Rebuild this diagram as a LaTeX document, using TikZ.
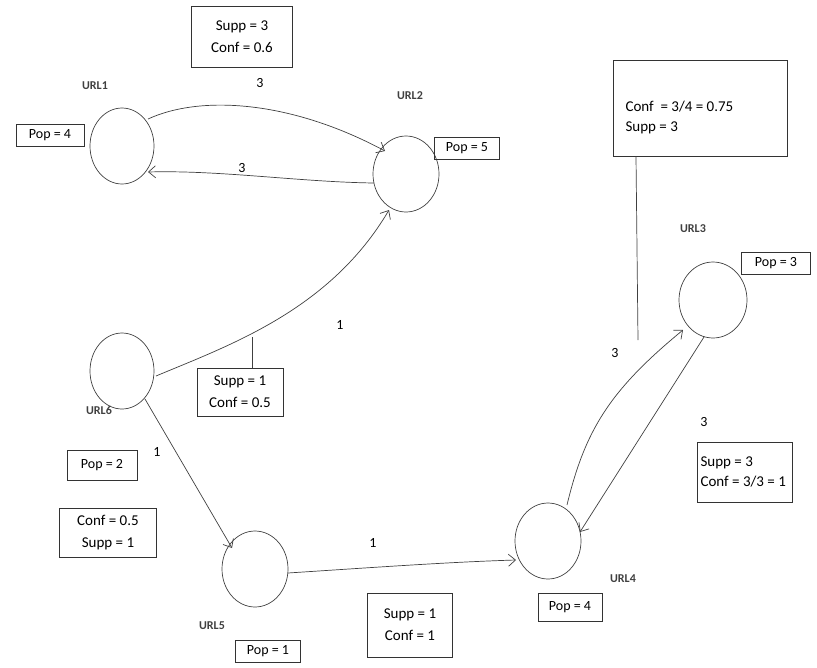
\documentclass[tikz,border=0pt]{standalone}
\usepackage{fontspec}
\setmainfont{Carlito}
\usetikzlibrary{arrows.meta,shapes.geometric}
\begin{document}
\begin{tikzpicture}[x=1pt,y=-1pt,
  urlnode/.style={ellipse,inner sep=0pt},
  infobox/.style={draw=black!80,line width=0.7pt,font=\fontsize{15}{22}\selectfont,align=center,inner sep=4pt},
  popbox/.style={draw=black!80,line width=0.7pt,font=\fontsize{14}{16}\selectfont,inner sep=3pt,minimum height=22pt},
  urllabel/.style={font=\bfseries\fontsize{12}{14}\selectfont,text=black!75},
  elabel/.style={font=\fontsize{14}{16}\selectfont},
  conn/.style={draw=black!75,line width=0.7pt},
  arr/.style={conn,-{Straight Barb[length=7pt,width=12pt]}}]
\useasboundingbox (0,0) rectangle (817,667);
% circles
\node[urlnode,minimum width=64pt,minimum height=76pt] (u1) at (122,146) {};
\node[urlnode,minimum width=66pt,minimum height=76pt] (u2) at (406,174) {};
\node[urlnode,minimum width=68pt,minimum height=76pt] (u3) at (713,300) {};
\node[urlnode,minimum width=64pt,minimum height=76pt] (u6) at (122,371) {};
\node[urlnode,minimum width=66pt,minimum height=76pt] (u5) at (255,569) {};
\node[urlnode,minimum width=66pt,minimum height=76pt] (u4) at (548,541) {};
\draw[conn] (u1.center) ellipse (32 and 38);
\draw[conn] (u2.center) ellipse (33 and 38);
\draw[conn] (u3.center) ellipse (34 and 38);
\draw[conn] (u6.center) ellipse (32 and 38);
\draw[conn] (u5.center) ellipse (33 and 38);
\draw[conn] (u4.center) ellipse (33 and 38);
% url labels
\node[urllabel] (l1) at (95,86) {URL1};
\node[urllabel] (l2) at (410,96) {URL2};
\node[urllabel] (l3) at (693,229) {URL3};
\node[urllabel] (l6) at (99,410) {URL6};
\node[urllabel] (l4) at (623,579) {URL4};
\node[urllabel] (l5) at (212,626) {URL5};
% pop boxes
\node[popbox,minimum width=68pt] (p1) at (50,135) {Pop = 4};
\node[popbox,minimum width=65pt] (p2) at (467,148) {Pop = 5};
\node[popbox,minimum width=69pt] (p3) at (776,263) {Pop = 3};
\node[popbox,minimum width=70pt,minimum height=30pt] (p6) at (102,465) {Pop = 2};
\node[popbox,minimum width=64pt,minimum height=28pt] (p4) at (570,607) {Pop = 4};
\node[popbox,minimum width=65pt] (p5) at (268,651) {Pop = 1};
% info boxes
\node[infobox,minimum width=101pt,minimum height=61pt] (b12) at (242,37) {Supp = 3\\Conf = 0.6};
\node[infobox,minimum width=86pt,minimum height=48pt] (b62) at (240,392) {Supp = 1\\Conf = 0.5};
\node[infobox,minimum width=97pt,minimum height=49pt] (b65) at (108,533) {Conf = 0.5\\Supp = 1};
\node[infobox,minimum width=85pt,minimum height=64pt] (b54) at (410,625) {Supp = 1\\Conf = 1};
\node[draw=black!80,line width=0.7pt,minimum width=95pt,minimum height=60pt,inner sep=0pt] (b34) at (744.5,472) {};
\node[font=\fontsize{15}{20}\selectfont,align=left,anchor=west] (t34) at (697,472) {Supp = 3\\Conf = 3/3 = 1};
\node[draw=black!80,line width=0.7pt,minimum width=174pt,minimum height=96pt,inner sep=0pt] (b43) at (700,108) {};
\node[font=\fontsize{15}{20}\selectfont,align=left,anchor=west] (t43) at (622,117) {Conf ~= 3/4 = 0.75\\Supp = 3};
% edge labels
\node[elabel] (e1) at (260,83) {3};
\node[elabel] (e2) at (242,168) {3};
\node[elabel] (e3) at (340,325) {1};
\node[elabel] (e4) at (157,452) {1};
\node[elabel] (e5) at (373,543) {1};
\node[elabel] (e6) at (615,353) {3};
\node[elabel] (e7) at (704,422) {3};
% connectors
\coordinate (s12) at (148,119);
\coordinate (t12) at (385,151);
\draw[arr] (s12) .. controls (200,95) and (290,100) .. (t12);
\coordinate (s21) at (374,183);
\coordinate (t21) at (148,172);
\draw[arr] (s21) .. controls (300,182) and (220,170) .. (t21);
\coordinate (s62) at (156,376);
\coordinate (t62) at (389,210);
\coordinate (m62) at (252,337);
\draw[arr] (s62) .. controls (230,345) and (330,310) .. (t62);
\draw[conn] (b62.north -| m62) -- (m62);
\coordinate (s65) at (145,399);
\coordinate (t65) at (232,548);
\draw[arr] (s65) -- (t65);
\coordinate (s54) at (288,573);
\coordinate (t54) at (516,560);
\draw[arr] (s54) .. controls (380,567) and (450,562) .. (t54);
\coordinate (s43) at (567,505);
\coordinate (t43) at (683,330);
\draw[arr] (s43) .. controls (585,430) and (610,390) .. (t43);
\coordinate (s34) at (704,337);
\coordinate (t34) at (580,532);
\draw[arr] (s34) -- (t34);
\coordinate (m43) at (638,340);
\draw[conn] (b43.south -| 636,0) -- (m43);
\end{tikzpicture}
\end{document}
